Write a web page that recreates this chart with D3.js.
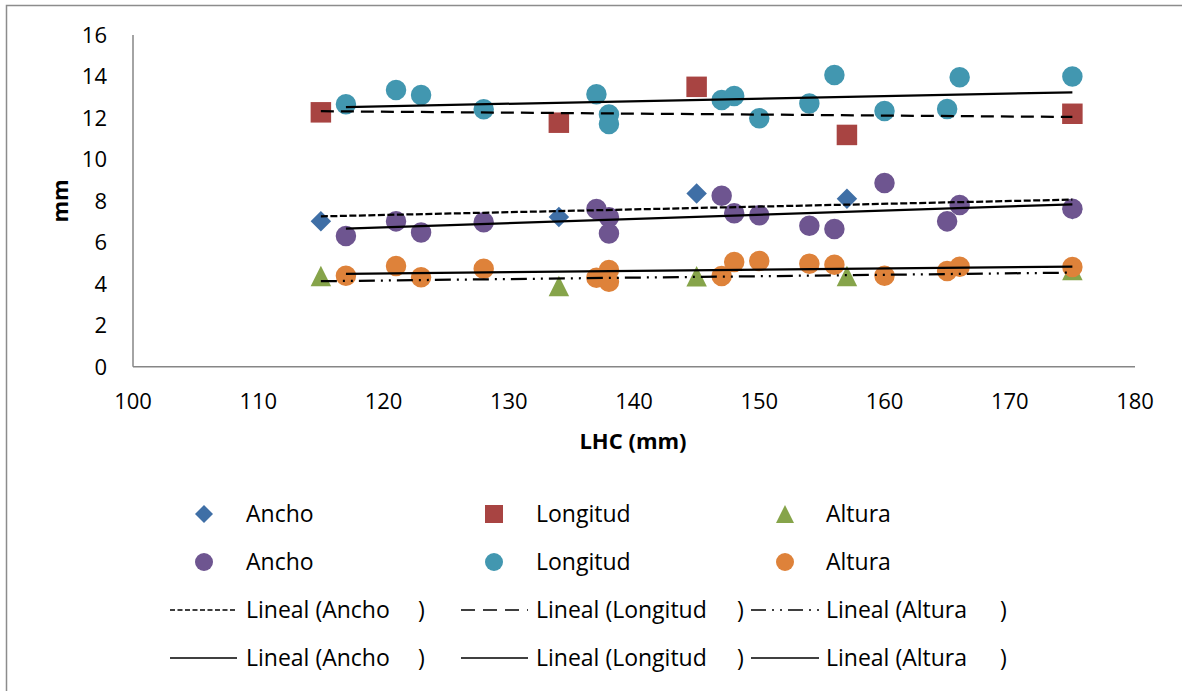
<!DOCTYPE html>
<html><head><meta charset="utf-8">
<script src="https://cdn.jsdelivr.net/npm/d3@7"></script>
<style>
body{margin:0;background:#fff;}
svg{font-family:"Open Sans",sans-serif;}
</style></head>
<body><svg id="c" width="1182" height="691"></svg>
<script>
// ---- data ----
const xTicks = [100,110,120,130,140,150,160,170,180];
const yTicks = [0,2,4,6,8,10,12,14,16];

const lhcA = [115,134,145,157,175];               // diamond/square/triangle series x
const anchoA = [7.01,7.22,8.36,8.10,7.60];
const longA  = [12.27,11.77,13.50,11.18,12.20];
const altA   = [4.37,3.89,4.36,4.37,4.67];

const lhcB = [117,121,123,128,137,138,138,147,148,150,154,156,160,165,166,175]; // circle series x
const anchoB = [6.31,7.01,6.47,6.97,7.61,7.21,6.43,8.25,7.40,7.30,6.80,6.64,8.86,7.01,7.80,7.62];
const longB  = [12.66,13.35,13.10,12.42,13.14,12.17,11.71,12.87,13.06,11.98,12.69,14.07,12.33,12.43,13.96,14.00];
const altB   = [4.39,4.86,4.31,4.73,4.29,4.66,4.10,4.38,5.05,5.10,4.97,4.92,4.39,4.62,4.82,4.81];

const seriesNames = ["Ancho","Longitud","Altura"];
const trendPrefix = "Lineal (";

// ---- layout ----
const svg = d3.select("#c");
const x = d3.scaleLinear().domain([100,180]).range([133,1135]);
const y = d3.scaleLinear().domain([0,16]).range([366.7,35]);

const colors = {
  diamond:"#3F6FA6", square:"#A84442", triangle:"#86A44A",
  purple:"#6E5590", teal:"#4297B0", orange:"#DE823A"
};

svg.append("rect").attr("x",6.5).attr("y",5.5).attr("width",1200).attr("height",720)
  .attr("fill","none").attr("stroke","#8c8c8c").attr("stroke-width",1.5);

// axes
const axisColor = "#868686";
svg.append("line").attr("x1",x(100)).attr("x2",x(100)).attr("y1",y(16)).attr("y2",y(0))
  .attr("stroke",axisColor).attr("stroke-width",1.5);
svg.append("line").attr("x1",x(100)).attr("x2",x(180)).attr("y1",y(0)).attr("y2",y(0))
  .attr("stroke",axisColor).attr("stroke-width",1.5);

svg.append("g").selectAll("text").data(yTicks).join("text")
  .attr("x",107).attr("y",d=>y(d)).attr("dy","0.36em").attr("text-anchor","end")
  .attr("font-size",22).attr("fill","#000").text(d=>d);
svg.append("g").selectAll("text").data(xTicks).join("text")
  .attr("x",d=>x(d)).attr("y",401).attr("dy","0.36em").attr("text-anchor","middle")
  .attr("font-size",22).attr("fill","#000").text(d=>d);

svg.append("text").attr("transform","translate(60,201) rotate(-90)").attr("dy","0.36em")
  .attr("text-anchor","middle").attr("font-size",22).attr("font-weight","bold").text("mm");
svg.append("text").attr("x",633).attr("y",441).attr("dy","0.36em")
  .attr("text-anchor","middle").attr("font-size",22).attr("font-weight","bold").text("LHC (mm)");

// symbols (box-centred, side = s)
const sym = {
  diamond: s => { const h=s/2; const p=d3.path(); p.moveTo(0,-h); p.lineTo(h,0); p.lineTo(0,h); p.lineTo(-h,0); p.closePath(); return p.toString(); },
  square: s => { const h=s/2; const p=d3.path(); p.rect(-h,-h,s,s); return p.toString(); },
  triangle: s => { const h=s/2; const p=d3.path(); p.moveTo(0,-h); p.lineTo(h,h); p.lineTo(-h,h); p.closePath(); return p.toString(); },
  circle: s => { const p=d3.path(); p.arc(0,0,s/2,0,2*Math.PI); return p.toString(); }
};

function drawPoints(xs, ys, shape, color, size){
  svg.append("g").selectAll("path").data(xs.map((v,i)=>[v,ys[i]])).join("path")
    .attr("d", sym[shape](size))
    .attr("transform", d=>`translate(${x(d[0])},${y(d[1])})`)
    .attr("fill", color);
}

drawPoints(lhcA, anchoA, "diamond", colors.diamond, 20.5);
drawPoints(lhcA, longA, "square", colors.square, 20.5);
drawPoints(lhcA, altA, "triangle", colors.triangle, 20.5);
drawPoints(lhcB, anchoB, "circle", colors.purple, 20.5);
drawPoints(lhcB, longB, "circle", colors.teal, 20.5);
drawPoints(lhcB, altB, "circle", colors.orange, 20.5);

// trend lines (least squares)
function fit(xs, ys){
  const mx = d3.mean(xs), my = d3.mean(ys);
  let sxy=0, sxx=0;
  xs.forEach((v,i)=>{ sxy += (v-mx)*(ys[i]-my); sxx += (v-mx)*(v-mx); });
  const b = sxy/sxx, a = my - b*mx;
  const x0 = d3.min(xs), x1 = d3.max(xs);
  return [[x0, a+b*x0],[x1, a+b*x1]];
}
const dashes = {
  sysDash: "7,2.5",
  dash: "13,7",
  lgDashDotDot: "16,6,2,6,2,6",
  solid: null
};
function drawTrend(xs, ys, dash){
  const p = fit(xs, ys);
  svg.append("line").attr("x1",x(p[0][0])).attr("y1",y(p[0][1]))
    .attr("x2",x(p[1][0])).attr("y2",y(p[1][1]))
    .attr("stroke","#000").attr("stroke-width",2.25)
    .attr("stroke-dasharray",dashes[dash]);
}
drawTrend(lhcA, anchoA, "sysDash");
drawTrend(lhcA, longA, "dash");
drawTrend(lhcA, altA, "lgDashDotDot");
drawTrend(lhcB, anchoB, "solid");
drawTrend(lhcB, longB, "solid");
drawTrend(lhcB, altB, "solid");

// legend
const colMarkerX = [204, 494, 785];
const colTextX = [246, 536, 826];
const colLine = [[170,237],[461,528],[751,819]];
const colClose = [418, 737, 1000];
const rowY = [514, 562, 610, 658];
const rowShapes = [["diamond","square","triangle"],["circle","circle","circle"]];
const rowColors = [[colors.diamond,colors.square,colors.triangle],[colors.purple,colors.teal,colors.orange]];
const lg = svg.append("g");
[0,1].forEach(r=>{
  [0,1,2].forEach(c=>{
    const shape = rowShapes[r][c];
    lg.append("path").attr("d", sym[shape](18))
      .attr("transform",`translate(${colMarkerX[c]},${rowY[r]})`).attr("fill",rowColors[r][c]);
    lg.append("text").attr("x",colTextX[c]).attr("y",rowY[r]).attr("dy","0.36em")
      .attr("font-size",23).text(seriesNames[c]);
  });
});
const trendDash = [["sysDash","dash","lgDashDotDot"],["solid","solid","solid"]];
const legendDash = {sysDash:"5,2.5", dash:"14,8", lgDashDotDot:"15,6,2,6,2,6", solid:null};
[0,1].forEach(r=>{
  [0,1,2].forEach(c=>{
    const yy = rowY[r+2];
    lg.append("line").attr("x1",colLine[c][0]).attr("x2",colLine[c][1]).attr("y1",yy).attr("y2",yy)
      .attr("stroke","#000").attr("stroke-width",1.6)
      .attr("stroke-dasharray",legendDash[trendDash[r][c]]);
    lg.append("text").attr("x",colTextX[c]).attr("y",yy).attr("dy","0.36em")
      .attr("font-size",23).text(trendPrefix + seriesNames[c]);
    lg.append("text").attr("x",colClose[c]).attr("y",yy).attr("dy","0.36em")
      .attr("font-size",23).text(")");
  });
});
</script></body></html>
